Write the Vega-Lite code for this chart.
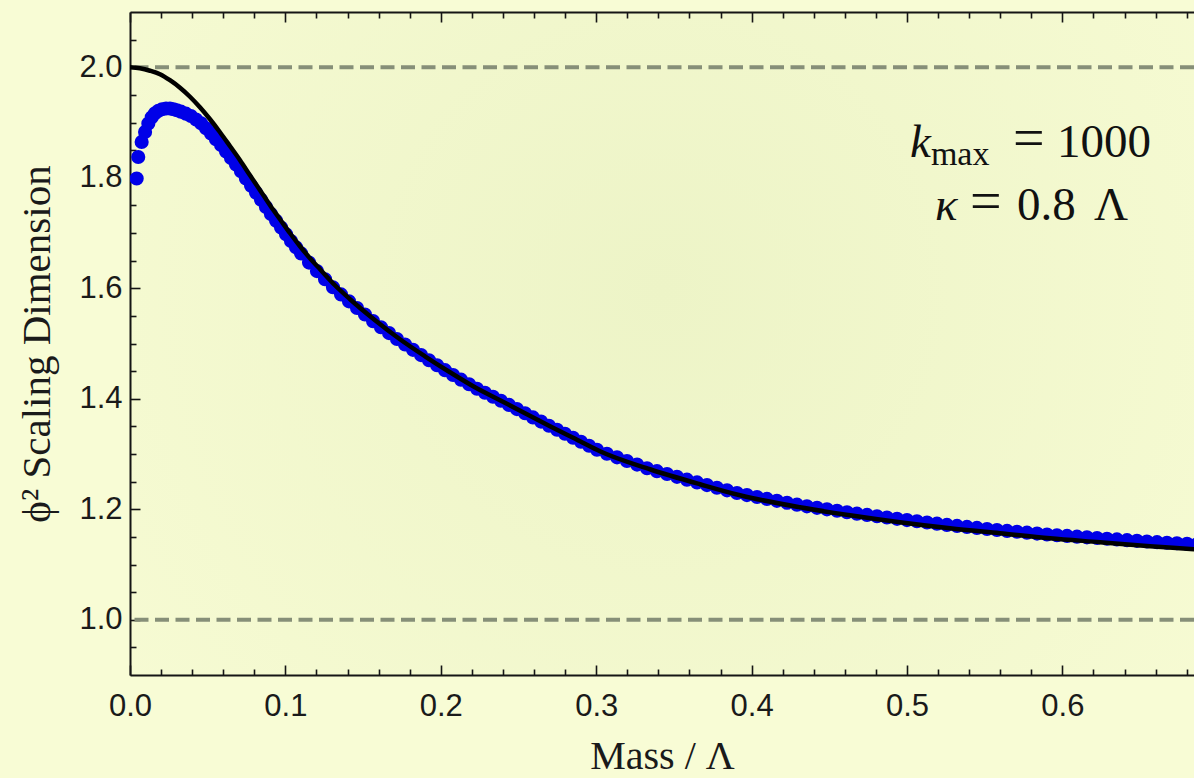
{
  "$schema": "https://vega.github.io/schema/vega-lite/v6.json",
  "width": 1064,
  "height": 663,
  "autosize": {"type": "none"},
  "padding": {"left": 130, "top": 12, "right": 0, "bottom": 103},
  "background": "#F8FCD5",
  "config": {
    "view": {"stroke": null, "fill": {"gradient": "radial", "x1": 0.5, "y1": 0.45, "r1": 0, "x2": 0.5, "y2": 0.45, "r2": 0.75, "stops": [{"offset": 0, "color": "#EDF4C7"}, {"offset": 1, "color": "#F8FCD5"}]}},
    "axis": {
      "domainColor": "#151515", "domainWidth": 2, "tickColor": "#151515", "tickWidth": 1.6,
      "labelFont": "Liberation Sans", "labelFontSize": 31, "labelColor": "#1a1a1a",
      "titleFont": "Liberation Serif", "titleFontSize": 40, "titleFontWeight": "normal", "titleColor": "#1a1a1a",
      "grid": false, "labelFlush": false, "labelOverlap": false, "zindex": 1
    }
  },
  "datasets": {
    "refs": [{"d": 1.0}, {"d": 2.0}],
    "blue": [
      {"m": 0.0043, "d": 1.7986}, {"m": 0.0053, "d": 1.8376}, {"m": 0.0075, "d": 1.8648}, {"m": 0.0097, "d": 1.8829},
      {"m": 0.0118, "d": 1.8981}, {"m": 0.0140, "d": 1.9095}, {"m": 0.0161, "d": 1.9167}, {"m": 0.0183, "d": 1.9213},
      {"m": 0.0206, "d": 1.9240}, {"m": 0.0232, "d": 1.9253}, {"m": 0.0257, "d": 1.9253}, {"m": 0.0280, "d": 1.9240},
      {"m": 0.0302, "d": 1.9222}, {"m": 0.0328, "d": 1.9196}, {"m": 0.0360, "d": 1.9160}, {"m": 0.0392, "d": 1.9118},
      {"m": 0.0425, "d": 1.9055}, {"m": 0.0457, "d": 1.8986}, {"m": 0.0489, "d": 1.8896}, {"m": 0.0521, "d": 1.8803},
      {"m": 0.0553, "d": 1.8699}, {"m": 0.0586, "d": 1.8592}, {"m": 0.0618, "d": 1.8474}, {"m": 0.0650, "d": 1.8356},
      {"m": 0.0682, "d": 1.8239}, {"m": 0.0714, "d": 1.8118}, {"m": 0.0746, "d": 1.7987}, {"m": 0.0779, "d": 1.7857},
      {"m": 0.0811, "d": 1.7730}, {"m": 0.0843, "d": 1.7603}, {"m": 0.0875, "d": 1.7471}, {"m": 0.0907, "d": 1.7342},
      {"m": 0.0940, "d": 1.7220}, {"m": 0.0972, "d": 1.7098}, {"m": 0.1004, "d": 1.6976}, {"m": 0.1036, "d": 1.6855},
      {"m": 0.1068, "d": 1.6742}, {"m": 0.1101, "d": 1.6631},
      {"m": 0.1152, "d": 1.6464}, {"m": 0.1203, "d": 1.6310}, {"m": 0.1255, "d": 1.6163}, {"m": 0.1306, "d": 1.6018},
      {"m": 0.1358, "d": 1.5888}, {"m": 0.1409, "d": 1.5763}, {"m": 0.1461, "d": 1.5643}, {"m": 0.1512, "d": 1.5524},
      {"m": 0.1564, "d": 1.5405}, {"m": 0.1615, "d": 1.5295}, {"m": 0.1667, "d": 1.5188}, {"m": 0.1718, "d": 1.5081},
      {"m": 0.1770, "d": 1.4981}, {"m": 0.1821, "d": 1.4885}, {"m": 0.1873, "d": 1.4790}, {"m": 0.1924, "d": 1.4697},
      {"m": 0.1976, "d": 1.4607}, {"m": 0.2027, "d": 1.4518}, {"m": 0.2079, "d": 1.4430}, {"m": 0.2130, "d": 1.4346},
      {"m": 0.2182, "d": 1.4262}, {"m": 0.2233, "d": 1.4181}, {"m": 0.2284, "d": 1.4109}, {"m": 0.2336, "d": 1.4036},
      {"m": 0.2387, "d": 1.3963}, {"m": 0.2439, "d": 1.3888}, {"m": 0.2490, "d": 1.3813}, {"m": 0.2542, "d": 1.3738},
      {"m": 0.2593, "d": 1.3662}, {"m": 0.2645, "d": 1.3587}, {"m": 0.2696, "d": 1.3512}, {"m": 0.2748, "d": 1.3439},
      {"m": 0.2799, "d": 1.3367}, {"m": 0.2851, "d": 1.3294}, {"m": 0.2902, "d": 1.3222}, {"m": 0.2954, "d": 1.3149},
      {"m": 0.3005, "d": 1.3077},
      {"m": 0.3069, "d": 1.3004}, {"m": 0.3134, "d": 1.2939}, {"m": 0.3198, "d": 1.2874}, {"m": 0.3263, "d": 1.2809},
      {"m": 0.3327, "d": 1.2743}, {"m": 0.3391, "d": 1.2689}, {"m": 0.3456, "d": 1.2638}, {"m": 0.3520, "d": 1.2587},
      {"m": 0.3584, "d": 1.2536}, {"m": 0.3649, "d": 1.2486}, {"m": 0.3713, "d": 1.2437}, {"m": 0.3777, "d": 1.2390},
      {"m": 0.3842, "d": 1.2342}, {"m": 0.3906, "d": 1.2295}, {"m": 0.3970, "d": 1.2256}, {"m": 0.4035, "d": 1.2222},
      {"m": 0.4099, "d": 1.2187}, {"m": 0.4163, "d": 1.2152}, {"m": 0.4228, "d": 1.2117}, {"m": 0.4292, "d": 1.2083},
      {"m": 0.4356, "d": 1.2053}, {"m": 0.4421, "d": 1.2026}, {"m": 0.4485, "d": 1.1999}, {"m": 0.4550, "d": 1.1972},
      {"m": 0.4614, "d": 1.1945}, {"m": 0.4678, "d": 1.1920}, {"m": 0.4743, "d": 1.1897}, {"m": 0.4807, "d": 1.1873},
      {"m": 0.4871, "d": 1.1850}, {"m": 0.4936, "d": 1.1826}, {"m": 0.5000, "d": 1.1804}, {"m": 0.5064, "d": 1.1782},
      {"m": 0.5129, "d": 1.1760}, {"m": 0.5193, "d": 1.1739}, {"m": 0.5257, "d": 1.1717}, {"m": 0.5322, "d": 1.1698},
      {"m": 0.5386, "d": 1.1680}, {"m": 0.5450, "d": 1.1662}, {"m": 0.5515, "d": 1.1643}, {"m": 0.5579, "d": 1.1625},
      {"m": 0.5644, "d": 1.1608}, {"m": 0.5708, "d": 1.1592}, {"m": 0.5772, "d": 1.1576}, {"m": 0.5837, "d": 1.1560},
      {"m": 0.5901, "d": 1.1543}, {"m": 0.5965, "d": 1.1530}, {"m": 0.6030, "d": 1.1517}, {"m": 0.6094, "d": 1.1504},
      {"m": 0.6158, "d": 1.1492}, {"m": 0.6223, "d": 1.1479}, {"m": 0.6287, "d": 1.1466}, {"m": 0.6351, "d": 1.1454},
      {"m": 0.6416, "d": 1.1441}, {"m": 0.6480, "d": 1.1428}, {"m": 0.6544, "d": 1.1416}, {"m": 0.6609, "d": 1.1404},
      {"m": 0.6673, "d": 1.1394}, {"m": 0.6737, "d": 1.1384}, {"m": 0.6802, "d": 1.1374}, {"m": 0.6866, "d": 1.1363}
    ],
    "black": [
      {"m": 0.0, "d": 2.0}, {"m": 0.0064, "d": 1.9982}, {"m": 0.0129, "d": 1.9937}, {"m": 0.0193, "d": 1.9873},
      {"m": 0.0257, "d": 1.9765}, {"m": 0.0322, "d": 1.9629}, {"m": 0.0386, "d": 1.9466}, {"m": 0.0450, "d": 1.9276},
      {"m": 0.0515, "d": 1.9059}, {"m": 0.0579, "d": 1.8824}, {"m": 0.0644, "d": 1.8570}, {"m": 0.0708, "d": 1.8317},
      {"m": 0.0772, "d": 1.8045}, {"m": 0.0837, "d": 1.7774}, {"m": 0.0901, "d": 1.7502}, {"m": 0.0965, "d": 1.7249},
      {"m": 0.1030, "d": 1.6995}, {"m": 0.1094, "d": 1.6760}, {"m": 0.1158, "d": 1.6543}, {"m": 0.1223, "d": 1.6344},
      {"m": 0.1319, "d": 1.6054}, {"m": 0.1416, "d": 1.5801}, {"m": 0.1577, "d": 1.5421}, {"m": 0.1737, "d": 1.5077},
      {"m": 0.1898, "d": 1.4769}, {"m": 0.2059, "d": 1.4480}, {"m": 0.2220, "d": 1.4208}, {"m": 0.2381, "d": 1.3973},
      {"m": 0.2542, "d": 1.3738}, {"m": 0.2703, "d": 1.3502}, {"m": 0.2896, "d": 1.3231}, {"m": 0.3024, "d": 1.3050},
      {"m": 0.3346, "d": 1.2724}, {"m": 0.3668, "d": 1.2452}, {"m": 0.3925, "d": 1.2253}, {"m": 0.4311, "d": 1.2036},
      {"m": 0.4633, "d": 1.1891}, {"m": 0.4955, "d": 1.1765}, {"m": 0.5277, "d": 1.1656}, {"m": 0.5598, "d": 1.1566},
      {"m": 0.5920, "d": 1.1475}, {"m": 0.6242, "d": 1.1403}, {"m": 0.6564, "d": 1.1330}, {"m": 0.6847, "d": 1.1276},
      {"m": 0.6900, "d": 1.1265}
    ],
    "ital": [{"m": 0.5019, "d": 1.8371, "t": "k"}, {"m": 0.5180, "d": 1.7231, "t": "κ"}],
    "reg": [
      {"m": 0.5965, "d": 1.8371, "t": "1000"},
      {"m": 0.5708, "d": 1.7231, "t": "0.8"}, {"m": 0.6203, "d": 1.7231, "t": "Λ"}
    ],
    "eq": [{"m": 0.5682, "d": 1.8371, "t": "="}, {"m": 0.5405, "d": 1.7231, "t": "="}],
    "sub": [{"m": 0.5154, "d": 1.8226, "t": "max"}]
  },
  "encoding": {
    "y": {
      "field": "d", "type": "quantitative",
      "scale": {"domain": [0.9, 2.1], "nice": false, "zero": false},
      "axis": {
        "orient": "left",
        "values": [0.95, 1, 1.05, 1.1, 1.15, 1.2, 1.25, 1.3, 1.35, 1.4, 1.45, 1.5, 1.55, 1.6, 1.65, 1.7, 1.75, 1.8, 1.85, 1.9, 1.95, 2, 2.05],
        "labelExpr": "abs(datum.value*5 - round(datum.value*5)) < 0.001 ? format(datum.value, '.1f') : ''",
        "tickSize": {"condition": {"test": "abs(datum.value*5 - round(datum.value*5)) < 0.001", "value": -10}, "value": -6},
        "labelPadding": 18,
        "title": "ϕ² Scaling Dimension",
        "titleFontSize": 41,
        "titlePadding": 20
      }
    }
  },
  "layer": [
    {
      "data": {"name": "refs"},
      "mark": {"type": "rule", "strokeDash": [14, 6.5], "strokeWidth": 4, "color": "#868F78", "clip": true}
    },
    {
      "data": {"name": "blue"},
      "mark": {"type": "circle", "size": 200, "color": "#0000E8", "opacity": 1, "clip": true},
      "encoding": {
        "x": {
          "field": "m", "type": "quantitative",
          "scale": {"domain": [0, 0.6847], "nice": false, "zero": false},
          "axis": {
            "orient": "bottom",
            "values": [0, 0.02, 0.04, 0.06, 0.08, 0.1, 0.12, 0.14, 0.16, 0.18, 0.2, 0.22, 0.24, 0.26, 0.28, 0.3, 0.32, 0.34, 0.36, 0.38, 0.4, 0.42, 0.44, 0.46, 0.48, 0.5, 0.52, 0.54, 0.56, 0.58, 0.6, 0.62, 0.64, 0.66, 0.68],
            "labelExpr": "abs(datum.value*10 - round(datum.value*10)) < 0.001 ? format(datum.value, '.1f') : ''",
            "tickSize": {"condition": {"test": "abs(datum.value*10 - round(datum.value*10)) < 0.001", "value": -10}, "value": -6},
            "labelPadding": 26,
            "title": "Mass / Λ",
            "titlePadding": 11
          }
        }
      }
    },
    {
      "data": {"name": "black"},
      "mark": {"type": "line", "color": "#000000", "strokeWidth": 4.5, "interpolate": "monotone", "clip": true},
      "encoding": {
        "x": {
          "field": "m", "type": "quantitative",
          "scale": {"domain": [0, 0.6847], "nice": false, "zero": false},
          "axis": {
            "orient": "top",
            "values": [0, 0.02, 0.04, 0.06, 0.08, 0.1, 0.12, 0.14, 0.16, 0.18, 0.2, 0.22, 0.24, 0.26, 0.28, 0.3, 0.32, 0.34, 0.36, 0.38, 0.4, 0.42, 0.44, 0.46, 0.48, 0.5, 0.52, 0.54, 0.56, 0.58, 0.6, 0.62, 0.64, 0.66, 0.68],
            "labels": false,
            "title": null,
            "tickSize": {"condition": {"test": "abs(datum.value*10 - round(datum.value*10)) < 0.001", "value": -10}, "value": -6}
          }
        }
      }
    },
    {
      "data": {"name": "ital"},
      "mark": {"type": "text", "font": "Liberation Serif", "fontSize": 47, "fontStyle": "italic", "align": "left", "baseline": "alphabetic", "color": "#111111"},
      "encoding": {
        "x": {"field": "m", "type": "quantitative", "axis": null},
        "text": {"field": "t"}
      }
    },
    {
      "data": {"name": "reg"},
      "mark": {"type": "text", "font": "Liberation Serif", "fontSize": 47, "align": "left", "baseline": "alphabetic", "color": "#111111"},
      "encoding": {
        "x": {"field": "m", "type": "quantitative", "axis": null},
        "text": {"field": "t"}
      }
    },
    {
      "data": {"name": "eq"},
      "mark": {"type": "text", "font": "Liberation Serif", "fontSize": 56, "align": "left", "baseline": "alphabetic", "color": "#111111"},
      "encoding": {
        "x": {"field": "m", "type": "quantitative", "axis": null},
        "text": {"field": "t"}
      }
    },
    {
      "data": {"name": "sub"},
      "mark": {"type": "text", "font": "Liberation Serif", "fontSize": 34, "align": "left", "baseline": "alphabetic", "color": "#111111"},
      "encoding": {
        "x": {"field": "m", "type": "quantitative", "axis": null},
        "text": {"field": "t"}
      }
    }
  ],
  "resolve": {"axis": {"x": "independent"}}
}
